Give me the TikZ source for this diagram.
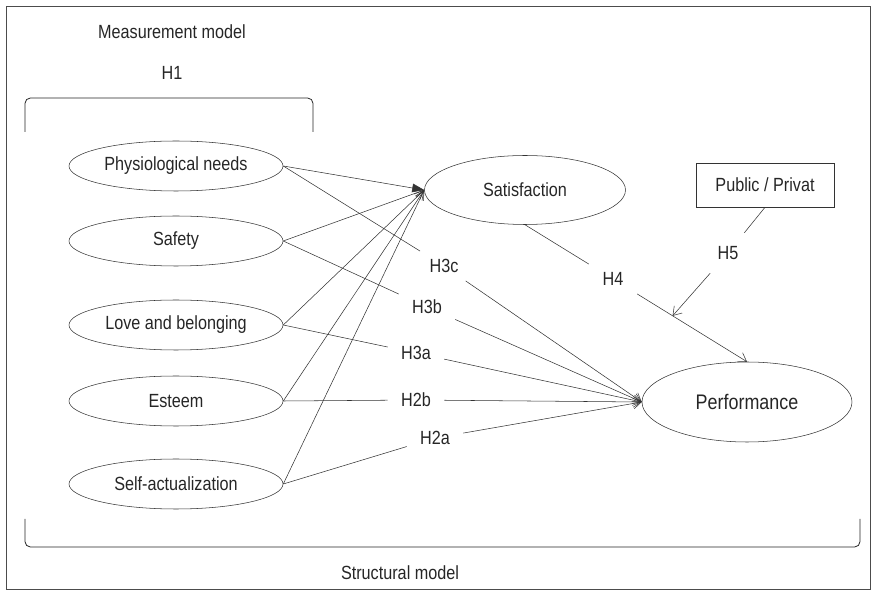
\documentclass[tikz,border=0pt]{standalone}
\usepackage{fontspec}
\setmainfont{Liberation Sans}[FakeStretch=0.85]
\usetikzlibrary{shapes.geometric,arrows.meta,calc}
\begin{document}
\begin{tikzpicture}[x=0.75pt,y=-0.75pt,
  every node/.style={font=\fontsize{14.3}{17}\selectfont, text=black!85},
  lat/.style={ellipse, draw=black!80, line width=0.4pt, inner sep=0pt, minimum width=160.5pt, minimum height=37.5pt},
  lbl/.style={inner sep=0pt, minimum width=42pt, minimum height=22pt},
  conn/.style={draw=black!80, line width=0.4pt},
  toperf/.style={conn, -{Straight Barb[length=6pt,width=8pt]}},
  tosat/.style={conn, -{Triangle[length=9pt,width=6.5pt]}},
  tosato/.style={conn, -{Straight Barb[length=7pt,width=6pt]}},
  brk/.style={draw=black!85, line width=0.6pt, rounded corners=4pt}
]
\useasboundingbox (0,0) rectangle (876,595);
\draw[black!70, line width=0.6pt] (6,6) rectangle (870,589);

% titles
\node (mm) at (172,32) {Measurement model};
\node (h1) at (172,73) {H1};
\node (sm) at (400,573) {Structural model};

% brackets
\draw[brk] (25,132) -- (25,98) -- (313,98) -- (313,132);
\draw[brk] (25,519) -- (25,547) -- (860,547) -- (860,519);

% latent variables
\node[lat] (phys) at (176,166) {Physiological needs};
\node[lat] (safe) at (176,241) {Safety};
\node[lat] (love) at (176,325) {Love and belonging};
\node[lat] (est)  at (176,401) {Esteem};
\node[lat] (self) at (176,484) {Self-actualization};

\node[ellipse, draw=black!80, line width=0.4pt, inner sep=0pt, minimum width=150.75pt, minimum height=51.75pt] (sat) at (525,190) {Satisfaction};
\node[ellipse, draw=black!80, line width=0.4pt, inner sep=0pt, minimum width=157.5pt, minimum height=60pt, font=\fontsize{15.8}{19}\selectfont] (perf) at (747,402) {Performance};
\node[draw=black!80, line width=0.4pt, inner sep=0pt, minimum width=103.5pt, minimum height=33pt] (pub) at (765,185) {Public / Privat};

% hypothesis labels
\node[lbl] (h3c) at (444,266) {H3c};
\node[lbl] (h3b) at (427,307) {H3b};
\node[lbl] (h3a) at (416,353) {H3a};
\node[lbl] (h2b) at (416,400) {H2b};
\node[lbl] (h2a) at (435,438) {H2a};
\node[lbl] (h4)  at (613,279) {H4};
\node[lbl, minimum height=30pt] (h5) at (728,253) {H5};

% to satisfaction
\draw[tosato] (safe.east) -- (sat.west);
\draw[tosato] (love.east) -- (sat.west);
\draw[tosato] (est.east) -- (sat.west);
\draw[tosato] (self.east) -- (sat.west);
\draw[tosat] (phys.east) -- (sat.west);

% to performance
\draw[toperf] (phys.east) -- (h3c) -- (perf.west);
\draw[toperf] (safe.east) -- (h3b) -- (perf.west);
\draw[toperf] (love.east) -- (h3a) -- (perf.west);
\draw[toperf] (est.east) -- (h2b) -- (perf.west);
\draw[toperf] (self.east) -- (h2a) -- (perf.west);
\draw[toperf] (sat.south) -- (h4) -- (perf.north);

% moderator
\coordinate (mod) at ($(sat.south)!0.665!(perf.north)$);
\draw[toperf] (pub.south) -- (h5) -- (mod);
\end{tikzpicture}
\end{document}
